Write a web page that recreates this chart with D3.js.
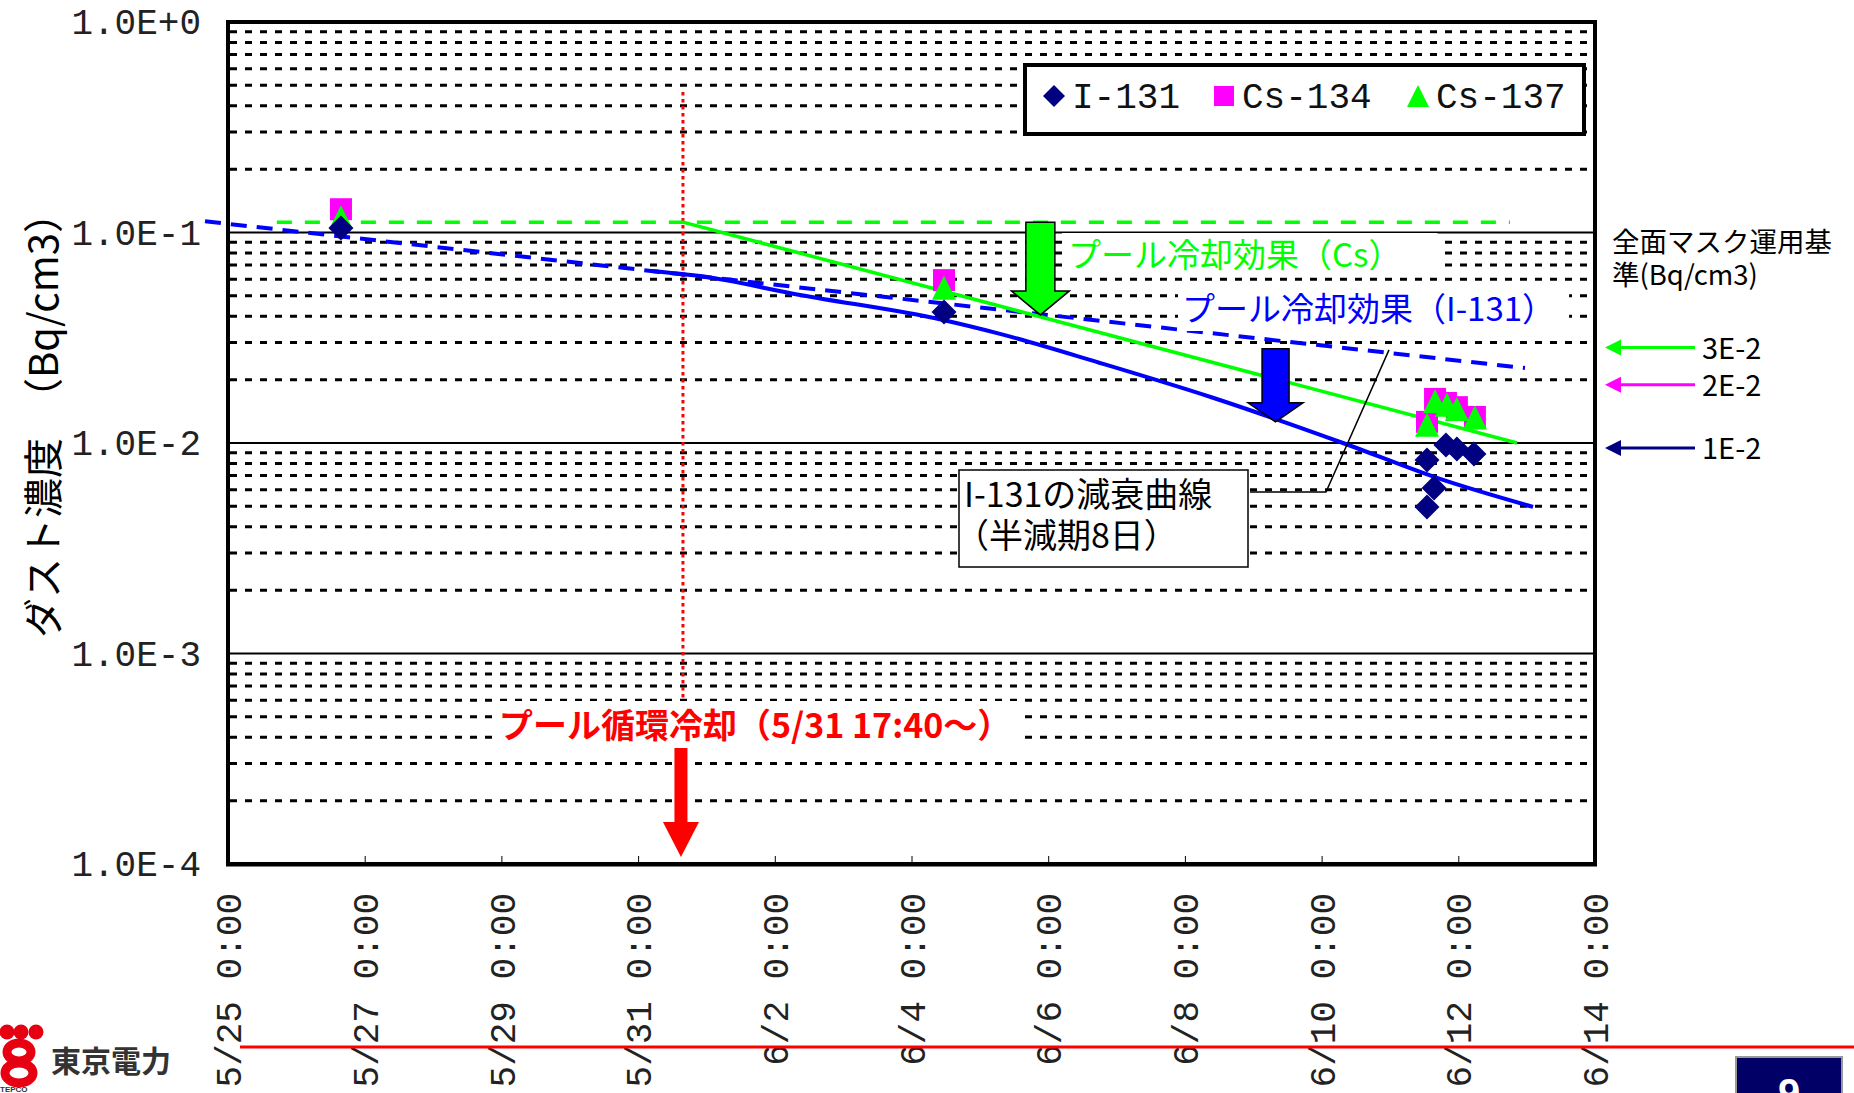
<!DOCTYPE html>
<html lang="ja">

<head>
    <meta charset="UTF-8">
    <title>ダスト濃度</title>
    <script type='text/javascript' src='https://d3js.org/d3.v7.min.js'></script>
    <style>
        body { margin: 0; background: #fff; }
        svg { display: block; }
    </style>
</head>

<body>
    <script>
        // measured points: [date, Bq/cm3]
        const i131 = [
            ["2011-05-26T15:40", 0.105],
            ["2011-06-04T11:25", 0.0419],
            ["2011-06-11T13:00", 0.0083],
            ["2011-06-11T13:00", 0.00497],
            ["2011-06-11T15:30", 0.00611],
            ["2011-06-11T19:40", 0.00978],
            ["2011-06-11T23:30", 0.00937],
            ["2011-06-12T05:30", 0.00887]
        ];
        const cs134 = [
            ["2011-05-26T15:40", 0.129],
            ["2011-06-04T11:25", 0.0594],
            ["2011-06-11T13:00", 0.0126],
            ["2011-06-11T15:50", 0.0162],
            ["2011-06-11T19:40", 0.0155],
            ["2011-06-11T23:30", 0.0148],
            ["2011-06-12T05:50", 0.0133]
        ];
        const cs137 = [
            ["2011-05-26T15:40", 0.118],
            ["2011-06-04T11:25", 0.0546],
            ["2011-06-11T13:00", 0.0122],
            ["2011-06-11T15:50", 0.0158],
            ["2011-06-11T20:00", 0.0152],
            ["2011-06-11T23:30", 0.0145],
            ["2011-06-12T05:50", 0.0132]
        ];

        // reference lines
        const csFlat = [["2011-05-25T17:10", 0.112], ["2011-06-12T18:10", 0.112]];
        const csCooling = [["2011-05-31T15:45", 0.112], ["2011-06-12T20:40", 0.0100]];
        const i131Decay = [["2011-05-24T15:55", 0.113], ["2011-06-12T23:25", 0.0227]];
        const i131Cooling = [
            ["2011-05-31T04:50", 0.0657],
            ["2011-05-31T21:45", 0.0621],
            ["2011-06-02T08:50", 0.0505],
            ["2011-06-04T11:05", 0.0384],
            ["2011-06-05T07:05", 0.0330],
            ["2011-06-06T18:10", 0.0240],
            ["2011-06-08T09:50", 0.0164],
            ["2011-06-10T07:30", 0.0100],
            ["2011-06-11T17:35", 0.00675],
            ["2011-06-13T02:15", 0.00497]
        ];

        // annotations
        const coolingStart = "2011-05-31T15:45";
        const coolingLine = [0.465, 0.00058];
        const coolingArrow = [0.000356, 0.000108];
        const csArrow = ["2011-06-05T21:15", 0.112, 0.0406];
        const iArrow = ["2011-06-09T07:50", 0.028, 0.0126];
        const leaderEnd = ["2011-06-10T23:40", 0.0277];

        // mask limits on the right
        const limitLabels = ["3E-2", "2E-2", "1E-2"];
        const limitValues = [0.03, 0.02, 0.01];
        const limitColors = ["#00ff00", "#ff00ff", "#000080"];

        // axes
        const tickDates = ["5/25", "5/27", "5/29", "5/31", "6/2", "6/4", "6/6", "6/8", "6/10", "6/12", "6/14"];
        const decades = [1, 0.1, 0.01, 0.001, 0.0001];

        const W = 1854, H = 1093;
        const pL = 228, pR = 1595, pT = 22, pB = 864;
        const cjk = "'Noto Sans CJK JP', sans-serif";
        const mono = "'Liberation Mono', monospace";

        const parse = d3.timeParse("%Y-%m-%dT%H:%M");
        const parseTick = d3.timeParse("%Y/%m/%d");

        const svg = d3.select("body").append("svg")
            .attr("width", W).attr("height", H);

        const x = d3.scaleTime()
            .domain([parse("2011-05-25T00:00"), parse("2011-06-14T00:00")])
            .range([pL, pR]);
        const y = d3.scaleLog()
            .domain([1e-4, 1])
            .range([pB, pT]);

        const px = d => x(parse(d));

        // gridlines
        const minor = y.ticks().filter(v => Math.abs(Math.log10(v) - Math.round(Math.log10(v))) > 1e-6);
        svg.append("g").selectAll("line").data(minor).enter().append("line")
            .attr("x1", pL + 2).attr("x2", pR)
            .attr("y1", d => y(d)).attr("y2", d => y(d))
            .attr("stroke", "#000").attr("stroke-width", 3)
            .attr("stroke-dasharray", "7 8");
        svg.append("g").selectAll("line").data(decades.slice(1, 4)).enter().append("line")
            .attr("x1", pL).attr("x2", pR)
            .attr("y1", d => y(d)).attr("y2", d => y(d))
            .attr("stroke", "#000").attr("stroke-width", 2);

        // x axis (ticks inward, rotated labels)
        const fmt = d3.timeFormat("%-m/%-d %-H:%M");
        const xAxis = svg.append("g")
            .attr("transform", "translate(0," + pB + ")")
            .call(d3.axisBottom(x)
                .tickValues(tickDates.map(d => parseTick("2011/" + d)))
                .tickSize(-8)
                .tickFormat(fmt));
        xAxis.select(".domain").remove();
        xAxis.selectAll("line").attr("stroke", "#000").attr("stroke-width", 1);
        xAxis.selectAll("text")
            .attr("transform", "rotate(-90)")
            .attr("x", -29).attr("y", 0).attr("dy", "0.35em")
            .attr("text-anchor", "end")
            .attr("font-family", mono).attr("font-size", 36)
            .attr("fill", "#222");

        // y axis
        const yAxis = svg.append("g")
            .attr("transform", "translate(" + pL + ",0)")
            .call(d3.axisLeft(y)
                .tickValues(decades)
                .tickSize(0).tickPadding(27)
                .tickFormat(d => {
                    const e = Math.round(Math.log10(d));
                    return "1.0E" + (e === 0 ? "+0" : e);
                }));
        yAxis.select(".domain").remove();
        yAxis.selectAll("text")
            .attr("font-family", mono).attr("font-size", 36)
            .attr("fill", "#222");

        // cooling start line
        svg.append("line")
            .attr("x1", px(coolingStart)).attr("x2", px(coolingStart))
            .attr("y1", y(coolingLine[0])).attr("y2", y(coolingLine[1]))
            .attr("stroke", "#ff0000").attr("stroke-width", 3)
            .attr("stroke-dasharray", "3.5 3.5");

        // reference lines
        const line = d3.line().x(d => px(d[0])).y(d => y(d[1])).curve(d3.curveMonotoneX);
        const refLines = [
            { data: csFlat, color: "#00ff00", w: 3.5, dash: "15 13" },
            { data: i131Decay, color: "#0000ff", w: 4, dash: "16 10" },
            { data: i131Cooling, color: "#0000ff", w: 4, dash: null },
            { data: csCooling, color: "#00ff00", w: 3.5, dash: null }
        ];
        refLines.forEach(r => {
            svg.append("path").datum(r.data)
                .attr("d", line)
                .attr("fill", "none")
                .attr("stroke", r.color).attr("stroke-width", r.w)
                .attr("stroke-dasharray", r.dash);
        });

        // label with white box behind it
        function label(txt, lx, ly, size, color, weight, pad) {
            const g = svg.append("g");
            const t = g.append("text")
                .attr("x", lx).attr("y", ly)
                .attr("font-family", cjk).attr("font-size", size)
                .attr("font-weight", weight)
                .attr("fill", color).text(txt);
            const b = t.node().getBBox();
            g.insert("rect", "text")
                .attr("x", b.x - pad[0]).attr("y", b.y - pad[1])
                .attr("width", b.width + pad[0] + pad[2])
                .attr("height", b.height + pad[1] + pad[3])
                .attr("fill", "#fff");
            return g;
        }
        label("プール冷却効果（Cs）", 1068, 267, 33, "#00ff00", "normal", [6, -4, 36, 0]);
        label("プール冷却効果（I-131）", 1182, 321, 33, "#0000ff", "normal", [4, -2, 14, 0]);
        label("プール循環冷却（5/31 17:40～）", 499, 738, 34, "#ff0000", "bold", [4, -2, 8, 0]);

        // decay curve annotation
        const lx = px(leaderEnd[0]), ly = y(leaderEnd[1]);
        svg.append("polyline")
            .attr("points", [[1250, 492], [1326, 492], [lx, ly]].join(" "))
            .attr("fill", "none").attr("stroke", "#000").attr("stroke-width", 1.5);
        svg.append("rect")
            .attr("x", 959).attr("y", 470).attr("width", 289).attr("height", 97)
            .attr("fill", "#fff").attr("stroke", "#000").attr("stroke-width", 1.5);
        svg.append("text")
            .attr("y", 507)
            .attr("font-family", cjk).attr("font-size", 34).attr("fill", "#000")
            .selectAll("tspan").data(["I-131の減衰曲線", "（半減期8日）"]).enter()
            .append("tspan")
            .attr("x", (d, i) => i ? 955 : 964).attr("dy", (d, i) => i ? 41 : 0)
            .text(d => d);

        // arrows
        function downArrow(cx, y0, y1, bodyW, headW, headL) {
            const p = d3.path();
            p.moveTo(cx - bodyW / 2, y0);
            p.lineTo(cx + bodyW / 2, y0);
            p.lineTo(cx + bodyW / 2, y1 - headL);
            p.lineTo(cx + headW / 2, y1 - headL);
            p.lineTo(cx, y1);
            p.lineTo(cx - headW / 2, y1 - headL);
            p.lineTo(cx - bodyW / 2, y1 - headL);
            p.closePath();
            return p.toString();
        }
        svg.append("path")
            .attr("d", downArrow(px(csArrow[0]), y(csArrow[1]), y(csArrow[2]), 29, 58, 24))
            .attr("fill", "#00ff00").attr("stroke", "#000").attr("stroke-width", 1.5);
        svg.append("path")
            .attr("d", downArrow(px(iArrow[0]), y(iArrow[1]), y(iArrow[2]), 27, 55, 19))
            .attr("fill", "#0000ff").attr("stroke", "#000").attr("stroke-width", 1.5);
        svg.append("path")
            .attr("d", downArrow(px(coolingStart) - 2, y(coolingArrow[0]), y(coolingArrow[1]), 13, 36, 35))
            .attr("fill", "#ff0000");

        // marker shapes (size = bounding width squared)
        const diamond = {
            draw(ctx, size) {
                const r = Math.sqrt(size) / 2;
                ctx.moveTo(0, -r); ctx.lineTo(r, 0); ctx.lineTo(0, r); ctx.lineTo(-r, 0); ctx.closePath();
            }
        };
        const square = {
            draw(ctx, size) {
                const r = Math.sqrt(size) / 2;
                ctx.rect(-r, -r, 2 * r, 2 * r);
            }
        };
        const triangle = {
            draw(ctx, size) {
                const r = Math.sqrt(size) / 2;
                ctx.moveTo(0, -r); ctx.lineTo(r, r); ctx.lineTo(-r, r); ctx.closePath();
            }
        };

        const series = [
            { name: "Cs-134", data: cs134, type: square, size: 22 * 22, color: "#ff00ff" },
            { name: "Cs-137", data: cs137, type: triangle, size: 24 * 24, color: "#00ff00" },
            { name: "I-131", data: i131, type: diamond, size: 25 * 25, color: "#000080" }
        ];
        series.forEach(s => {
            svg.append("g").selectAll("path").data(s.data).enter().append("path")
                .attr("d", d3.symbol().type(s.type).size(s.size))
                .attr("transform", d => "translate(" + px(d[0]) + "," + y(d[1]) + ")")
                .attr("fill", s.color);
        });

        // legend
        const legend = svg.append("g");
        legend.append("rect")
            .attr("x", 1025).attr("y", 65).attr("width", 559).attr("height", 69)
            .attr("fill", "#fff").attr("stroke", "#000").attr("stroke-width", 4);
        const legendItems = [series[2], series[0], series[1]];
        const legendX = [1054, 1224, 1418];
        legendItems.forEach((s, i) => {
            legend.append("path")
                .attr("d", d3.symbol().type(s.type).size(s.type === square ? 400 : 484))
                .attr("transform", "translate(" + legendX[i] + ",96)")
                .attr("fill", s.color);
            legend.append("text")
                .attr("x", legendX[i] + 18).attr("y", 108)
                .attr("font-family", mono).attr("font-size", 36).attr("fill", "#111")
                .text(s.name);
        });

        // plot frame
        svg.append("rect")
            .attr("x", pL).attr("y", pT)
            .attr("width", pR - pL).attr("height", pB - pT)
            .attr("fill", "none").attr("stroke", "#000").attr("stroke-width", 4);
        svg.append("line")
            .attr("x1", pL - 2).attr("x2", pR + 2)
            .attr("y1", pB + 1).attr("y2", pB + 1)
            .attr("stroke", "#000").attr("stroke-width", 3);

        // y title
        svg.append("text")
            .attr("transform", "translate(44,638) rotate(-90)")
            .attr("dy", "0.35em")
            .attr("font-family", cjk).attr("font-size", 40).attr("fill", "#000")
            .text("ダスト濃度　（Bq/cm3）");

        // mask limit notes
        svg.append("text")
            .attr("font-family", cjk).attr("font-size", 27.5).attr("fill", "#000")
            .selectAll("tspan").data(["全面マスク運用基", "準(Bq/cm3)"]).enter()
            .append("tspan")
            .attr("x", 1612).attr("y", (d, i) => 252 + i * 33)
            .text(d => d);
        limitValues.forEach((v, i) => {
            const ly2 = y(v) + 5;
            svg.append("line")
                .attr("x1", 1618).attr("x2", 1695).attr("y1", ly2).attr("y2", ly2)
                .attr("stroke", limitColors[i]).attr("stroke-width", 3);
            svg.append("path")
                .attr("d", "M1605," + ly2 + "L1621," + (ly2 - 8) + "L1621," + (ly2 + 8) + "Z")
                .attr("fill", limitColors[i]);
            svg.append("text")
                .attr("x", 1702).attr("y", ly2 + 11)
                .attr("font-family", cjk).attr("font-size", 29).attr("fill", "#000")
                .text(limitLabels[i]);
        });

        // slide footer
        svg.append("line")
            .attr("x1", 240).attr("x2", W).attr("y1", 1047).attr("y2", 1047)
            .attr("stroke", "#ff0000").attr("stroke-width", 3);
        const logo = svg.append("g");
        [7, 21, 36].forEach(cx => {
            logo.append("circle").attr("cx", cx).attr("cy", 1032).attr("r", 7.5).attr("fill", "#e60012");
        });
        logo.append("ellipse").attr("cx", 19).attr("cy", 1052).attr("rx", 12).attr("ry", 9)
            .attr("fill", "none").attr("stroke", "#e60012").attr("stroke-width", 9);
        logo.append("ellipse").attr("cx", 19).attr("cy", 1073).attr("rx", 14).attr("ry", 10)
            .attr("fill", "none").attr("stroke", "#e60012").attr("stroke-width", 9);
        logo.append("text").attr("x", 0).attr("y", 1092)
            .attr("font-family", "'Liberation Sans', sans-serif").attr("font-size", 8)
            .attr("font-weight", "bold").attr("fill", "#333").text("TEPCO");
        logo.append("text").attr("x", 51).attr("y", 1072)
            .attr("font-family", cjk).attr("font-size", 30).attr("font-weight", "bold")
            .attr("fill", "#333").text("東京電力");

        svg.append("rect")
            .attr("x", 1736).attr("y", 1057).attr("width", 106).attr("height", 50)
            .attr("fill", "#000066").attr("stroke", "#999").attr("stroke-width", 2);
        svg.append("text")
            .attr("x", 1789).attr("y", 1107).attr("text-anchor", "middle")
            .attr("font-family", "'Liberation Sans', sans-serif").attr("font-size", 40)
            .attr("font-weight", "bold").attr("fill", "#fff").text("9");
    </script>
</body>

</html>
